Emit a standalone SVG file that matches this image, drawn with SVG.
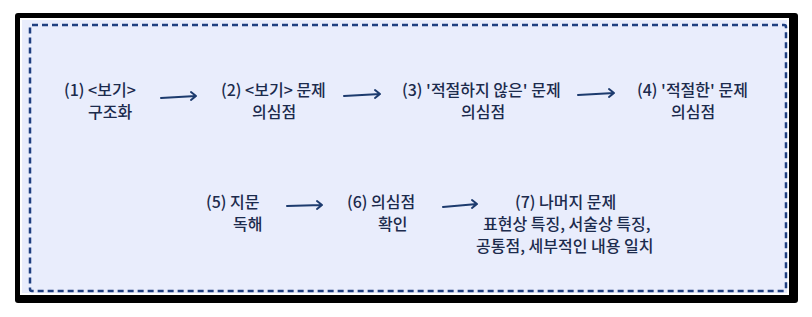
<svg xmlns="http://www.w3.org/2000/svg" width="812" height="317" viewBox="0 0 812 317">
<defs>
<style>
.t{font-family:"Noto Sans CJK KR","Noto Sans",sans-serif;font-size:16px;font-weight:500;fill:#1c2b4d;}
.a{fill:none;stroke:#1d3b6e;stroke-width:2;stroke-linecap:round;stroke-linejoin:round;}
</style>
</defs>
<rect x="0" y="0" width="812" height="317" fill="#ffffff"/>
<g id="frame">
<rect x="15" y="13" width="783" height="290" rx="3" fill="#000000"/>
<rect x="20" y="18" width="769" height="277" fill="#ffffff"/>
<rect x="22" y="20" width="765" height="273" fill="#e9edfc"/>
<rect x="30" y="25" width="756" height="266" rx="2" fill="none" stroke="#1f3f80" stroke-width="2.5" stroke-dasharray="6 4"/>
</g>
<g id="n1"><text class="t" x="64" y="96">(1) &lt;보기&gt;</text><text class="t" x="88" y="118">구조화</text></g>
<g id="n2"><text class="t" x="221" y="96">(2) &lt;보기&gt; 문제</text><text class="t" x="252" y="118">의심점</text></g>
<g id="n3"><text class="t" x="402" y="96">(3) '적절하지 않은' 문제</text><text class="t" x="461" y="118">의심점</text></g>
<g id="n4"><text class="t" x="637" y="96">(4) '적절한' 문제</text><text class="t" x="671" y="118">의심점</text></g>
<g id="n5"><text class="t" x="206" y="208">(5) 지문</text><text class="t" x="233" y="230">독해</text></g>
<g id="n6"><text class="t" x="347" y="208">(6) 의심점</text><text class="t" x="378" y="230">확인</text></g>
<g id="n7"><text class="t" x="515" y="208">(7) 나머지 문제</text><text class="t" x="483" y="230">표현상 특징, 서술상 특징,</text><text class="t" x="476" y="252">공통점, 세부적인 내용 일치</text></g>
<g id="connectors">
<path class="a" d="M161 98 L196 96 M191 92 L196 96 L191 100"/>
<path class="a" d="M344 96 L380 94 M375 90 L380 94 L375 98"/>
<path class="a" d="M578 95 L614 93 M609 89 L614 93 L609 97"/>
<path class="a" d="M287 206 L322 205 M317 201 L322 205 L317 209"/>
<path class="a" d="M443 207 L477 204 M472 200 L477 204 L472 208"/>
</g>
</svg>
